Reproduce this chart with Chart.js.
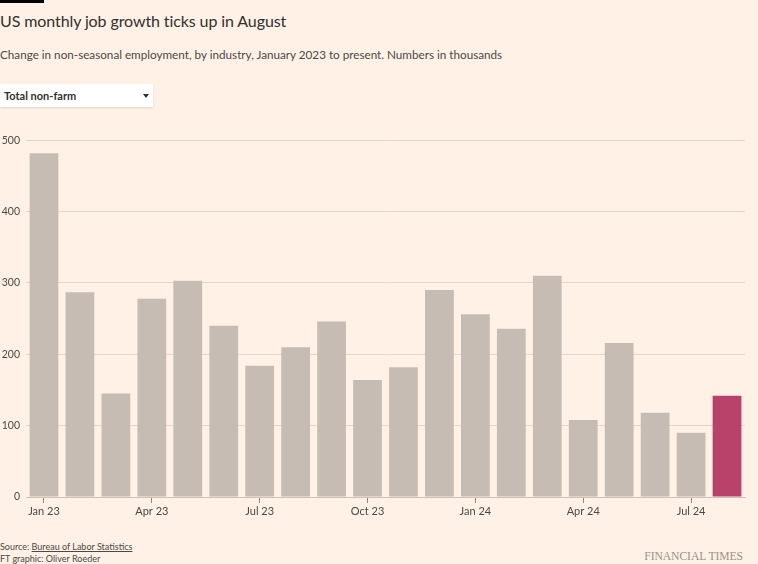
<!DOCTYPE html>
<html>
<head>
<meta charset="utf-8">
<script src="https://cdn.jsdelivr.net/npm/chart.js@4.4.1/dist/chart.umd.min.js"></script>
<style>
  html, body { margin:0; padding:0; background:#FFF1E5; }
  body { width:758px; height:564px; position:relative; overflow:hidden; font-family: Lato, "Noto Sans", sans-serif; color:#33302e; }
  #topbar { position:absolute; left:0; top:0; width:44px; height:3px; background:#000; }
  #title { position:absolute; left:0; top:10px; font-size:16px; line-height:22px; letter-spacing:-0.1px; color:#33302e; white-space:nowrap; }
  #subtitle { position:absolute; left:0; top:46px; font-size:11.7px; line-height:16px; color:#4d4845; white-space:nowrap; }
  #dropdown { position:absolute; left:0; top:84px; width:153px; height:23px; background:#fff; box-shadow:0 1px 2px rgba(0,0,0,0.12); }
  #dropdown span { position:absolute; left:4px; top:4px; font-size:11px; line-height:15px; font-weight:bold; color:#33302e; }
  #arrow { position:absolute; left:143px; top:10px; width:0; height:0; border-left:3.5px solid transparent; border-right:3.5px solid transparent; border-top:4px solid #33302e; }
  #wrap { position:absolute; left:0; top:128px; width:758px; height:399px; }
  #src { position:absolute; left:0; top:541px; font-size:9px; line-height:12px; color:#4d4845; white-space:nowrap; }
  #src u { text-decoration:underline; }
  #credit { position:absolute; left:0; top:553px; font-size:9px; line-height:12px; color:#4d4845; white-space:nowrap; }
  #ft { position:absolute; right:15px; top:550px; font-family:"Liberation Serif", "DejaVu Serif", serif; font-size:11.6px; line-height:14px; color:#9b918a; letter-spacing:-0.05px; white-space:nowrap; }
</style>
</head>
<body>
<div id="topbar"></div>
<div id="title">US monthly job growth ticks up in August</div>
<div id="subtitle">Change in non-seasonal employment, by industry, January 2023 to present. Numbers in thousands</div>
<div id="dropdown"><span>Total non-farm</span><div id="arrow"></div></div>
<div id="wrap"><canvas id="c" width="758" height="399"></canvas></div>
<div id="src">Source: <u>Bureau of Labor Statistics</u></div>
<div id="credit">FT graphic: Oliver Roeder</div>
<div id="ft">FINANCIAL TIMES</div>
<script>
const months = ["Jan 23","Feb 23","Mar 23","Apr 23","May 23","Jun 23","Jul 23","Aug 23","Sep 23","Oct 23","Nov 23","Dec 23",
                "Jan 24","Feb 24","Mar 24","Apr 24","May 24","Jun 24","Jul 24","Aug 24"];
const jobChange = [482, 287, 145, 278, 303, 240, 184, 210, 246, 164, 182, 290, 256, 236, 310, 108, 216, 118, 90, 142];
const yTicks = [0, 100, 200, 300, 400, 500];
const baseColor = "#c7bcb3";
const highlightColor = "#b8426a";

const barColors = jobChange.map((v, i) => i === jobChange.length - 1 ? highlightColor : baseColor);

new Chart(document.getElementById("c"), {
  type: "bar",
  data: {
    labels: months,
    datasets: [{
      data: jobChange,
      backgroundColor: barColors,
      borderWidth: 0,
      categoryPercentage: 0.8,
      barPercentage: 1.0
    }]
  },
  options: {
    responsive: false,
    animation: false,
    devicePixelRatio: 1,
    layout: { padding: { top: 4, right: 13, left: 0, bottom: 0 } },
    plugins: { legend: { display: false }, tooltip: { enabled: false } },
    scales: {
      x: {
        offset: true,
        grid: {
          display: true,
          offset: false,
          drawOnChartArea: false,
          drawTicks: true,
          tickLength: 6,
          color: (ctx) => (ctx.index % 3 === 0 ? "#8f8680" : "rgba(0,0,0,0)")
        },
        border: { display: true, color: "#cdc2b8", width: 1 },
        ticks: {
          autoSkip: false,
          maxRotation: 0,
          padding: 2,
          color: "#4d4845",
          font: { family: "Lato, 'Noto Sans', sans-serif", size: 11 },
          callback: function(val, idx) { return idx % 3 === 0 ? months[idx] : ""; }
        },
        afterFit: (s) => { s.height = 30; }
      },
      y: {
        min: 0,
        max: 500,
        afterBuildTicks: (s) => { s.ticks = yTicks.map(v => ({ value: v })); },
        grid: { color: "#e2d5ca", drawTicks: false, lineWidth: 1 },
        border: { display: false },
        ticks: {
          padding: 6,
          color: "#4d4845",
          font: { family: "Lato, 'Noto Sans', sans-serif", size: 10.5 }
        },
        afterFit: (s) => { s.width = 26; }
      }
    }
  }
});
</script>
</body>
</html>
